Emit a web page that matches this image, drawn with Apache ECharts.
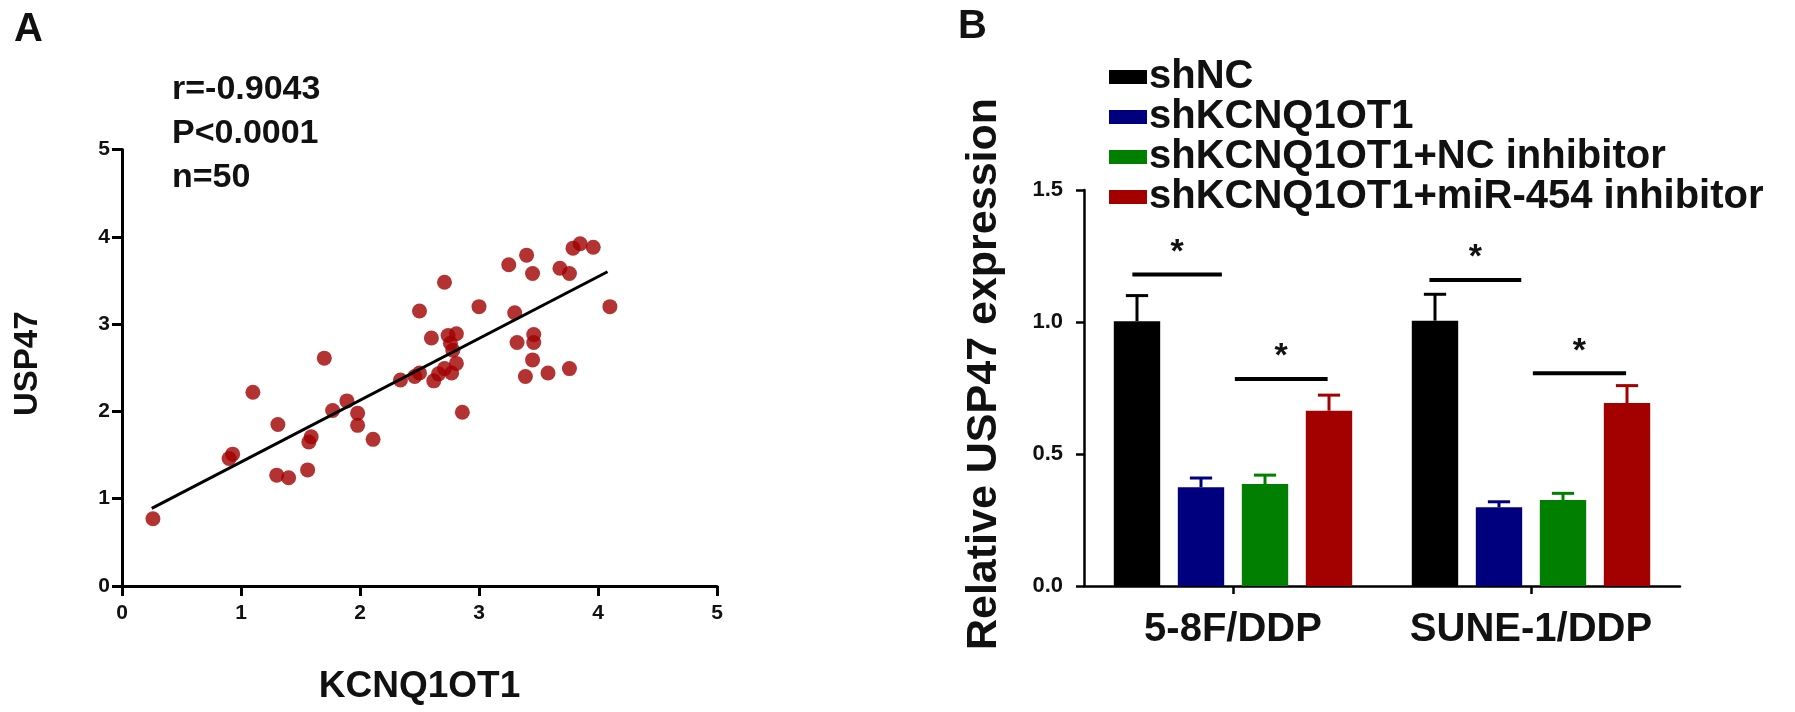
<!DOCTYPE html>
<html>
<head>
<meta charset="utf-8">
<script src="https://cdn.jsdelivr.net/npm/echarts@6/dist/echarts.min.js"></script>
<style>
html,body{margin:0;padding:0;background:#fff;}
#chart{width:1795px;height:712px;}
</style>
</head>
<body>
<div id="chart"></div>
<script>
// ---------- Panel A data (scatter) ----------
const kcnq1ot1 = [0.26,0.90,0.93,1.10,1.31,1.30,1.40,1.56,1.57,1.59,1.70,1.77,1.89,1.98,1.98,2.11,2.34,2.46,2.50,2.62,2.50,2.71,2.60,2.74,2.81,2.76,2.71,2.81,2.77,2.86,3.00,3.25,3.40,3.45,3.30,3.32,3.46,3.46,3.45,3.39,3.58,3.76,3.68,3.76,3.79,3.85,3.96,4.10,2.66,2.78];
const usp47    = [0.77,1.46,1.51,2.22,1.85,1.27,1.24,1.33,1.65,1.71,2.61,2.01,2.12,1.98,1.84,1.68,2.36,2.40,2.44,2.35,3.15,3.48,2.84,2.87,2.89,2.78,2.49,2.55,2.44,1.99,3.20,3.68,3.79,3.58,3.13,2.79,2.88,2.79,2.59,2.40,2.44,2.49,3.64,3.58,3.87,3.92,3.88,3.20,2.43,2.70];
const fitLineX = [0.25, 4.08];
const fitLineY = [0.89, 3.60];
const scatterTicks = [0,1,2,3,4,5];
const statLines = ['r=-0.9043','P<0.0001','n=50'];

// ---------- Panel B data (bars) ----------
const cellLines = ['5-8F/DDP','SUNE-1/DDP'];
const groupNames = ['shNC','shKCNQ1OT1','shKCNQ1OT1+NC inhibitor','shKCNQ1OT1+miR-454 inhibitor'];
const groupColors = ['#000000','#00007f','#007f00','#a30000'];
const shNC      = [1.003, 1.005];
const shK       = [0.374, 0.298];
const shKNC     = [0.386, 0.326];
const shKmiR    = [0.664, 0.693];
const errShNC   = [0.097, 0.100];
const errShK    = [0.035, 0.021];
const errShKNC  = [0.034, 0.025];
const errShKmiR = [0.059, 0.066];
const barTicks = [0, 0.5, 1.0, 1.5];
// significance brackets: [category, start bar, start offset (bar widths), end bar, end offset, y value]
const sigBrackets = [[0,0,-0.1,1,0.45,1.18],[0,2,-0.65,3,-0.03,0.784],[1,0,-0.12,1,0.48,1.159],[1,2,-0.65,3,-0.02,0.806]];

const FONT = '"Liberation Sans", Arial, sans-serif';
const CAT_GAP = 0.2, BAR_GAP = 0.38;

const values = [shNC, shK, shKNC, shKmiR];
const errs = [errShNC, errShK, errShKNC, errShKmiR];

function barGeom(api){
  const band = api.size([1,0])[0];
  const n = groupNames.length;
  const barW = band*(1-CAT_GAP)/(n+(n-1)*BAR_GAP);
  return {band, barW, pitch: barW*(1+BAR_GAP)};
}
function barX(api, cat, idx, frac){
  const g = barGeom(api);
  const c = api.coord([cat, 0])[0];
  return c - g.band*(1-CAT_GAP)/2 + g.barW/2 + idx*g.pitch + frac*g.barW;
}

const errData = [];
values.forEach((arr, gi)=>arr.forEach((v, ci)=>errData.push([ci, gi, v, errs[gi][ci]])));

const chart = echarts.init(document.getElementById('chart'));
const option = {
  animation:false,
  backgroundColor:'#fff',
  textStyle:{fontFamily:FONT},
  grid:[
    {left:122, top:149.5, width:595, height:436.5},
    {left:1084, top:190, width:596, height:396}
  ],
  xAxis:[
    {gridIndex:0, type:'value', min:0, max:5, interval:1,
     name:'KCNQ1OT1', nameLocation:'middle', nameGap:82,
     nameTextStyle:{fontSize:37, fontWeight:'bold', color:'#111', fontFamily:FONT},
     axisLine:{show:true, lineStyle:{color:'#000', width:3}},
     axisTick:{show:true, length:10, lineStyle:{color:'#000', width:3}},
     axisLabel:{fontSize:21, fontWeight:'bold', color:'#111', margin:17, fontFamily:FONT,
       formatter:(v)=>scatterTicks.includes(v)?String(v):''},
     splitLine:{show:false}},
    {gridIndex:1, type:'category', data:cellLines,
     axisLine:{show:true, lineStyle:{color:'#000', width:2.5}},
     axisTick:{show:true, alignWithLabel:true, length:8, lineStyle:{color:'#000', width:2.5}},
     axisLabel:{interval:0, fontSize:40, fontWeight:'bold', color:'#111', margin:24, fontFamily:FONT},
     splitLine:{show:false}}
  ],
  yAxis:[
    {gridIndex:0, type:'value', min:0, max:5, interval:1,
     name:'USP47', nameLocation:'middle', nameGap:78, nameRotate:90,
     nameTextStyle:{fontSize:33, fontWeight:'bold', color:'#111', fontFamily:FONT, padding:[0,0,0,8]},
     axisLine:{show:true, lineStyle:{color:'#000', width:3}},
     axisTick:{show:true, length:10, lineStyle:{color:'#000', width:3}},
     axisLabel:{fontSize:21, fontWeight:'bold', color:'#111', margin:12, fontFamily:FONT},
     splitLine:{show:false}},
    {gridIndex:1, type:'value', min:0, max:1.5, interval:0.5,
     name:'Relative USP47 expression', nameLocation:'middle', nameGap:78, nameRotate:90,
     nameTextStyle:{fontSize:43, fontWeight:'bold', color:'#111', fontFamily:FONT, padding:[0,0,0,28]},
     axisLine:{show:true, lineStyle:{color:'#000', width:2.5}},
     axisTick:{show:true, length:8, lineStyle:{color:'#000', width:2.5}},
     axisLabel:{fontSize:22, fontWeight:'bold', color:'#111', margin:21, fontFamily:FONT,
       formatter:(v)=>barTicks.includes(v)?v.toFixed(1):''},
     splitLine:{show:false}}
  ],
  legend:{
    orient:'vertical', left:1104, top:52, itemWidth:38, itemHeight:14, itemGap:0,
    icon:'rect', selectedMode:false,
    data:groupNames,
    textStyle:{fontSize:40, fontWeight:'bold', color:'#111', lineHeight:38, fontFamily:FONT, padding:[0,0,0,-3]}
  },
  graphic:[
    {type:'text', left:14, top:10, style:{text:'A', font:'bold 40px '+FONT, fill:'#111'}},
    {type:'text', left:958, top:7, style:{text:'B', font:'bold 40px '+FONT, fill:'#111'}},
    {type:'text', left:172, top:68, style:{text:statLines.join('\n'), font:'bold 34px '+FONT, lineHeight:44, fill:'#111'}}
  ],
  series:[
    {type:'scatter', xAxisIndex:0, yAxisIndex:0, symbol:'circle', symbolSize:15,
     itemStyle:{color:'#a00000'},
     data:kcnq1ot1.map((x,i)=>[x, usp47[i]]), z:3},
    {type:'line', xAxisIndex:0, yAxisIndex:0, symbol:'none', silent:true,
     lineStyle:{color:'#000', width:3},
     data:fitLineX.map((x,i)=>[x, fitLineY[i]]), z:4},
    ...groupNames.map((name, gi)=>({
      type:'bar', name, xAxisIndex:1, yAxisIndex:1,
      barGap:(BAR_GAP*100)+'%', barCategoryGap:(CAT_GAP*100)+'%',
      itemStyle:{color:groupColors[gi]},
      data:values[gi]
    })),
    {type:'custom', xAxisIndex:1, yAxisIndex:1, silent:true, z:5,
     data:errData,
     renderItem:(params, api)=>{
       const cat = api.value(0), gi = api.value(1), v = api.value(2), e = api.value(3);
       const g = barGeom(api);
       const x = barX(api, cat, gi, 0);
       const y0 = api.coord([cat, v])[1];
       const y1 = api.coord([cat, v+e])[1];
       const cw = g.barW*0.48;
       const col = groupColors[gi];
       return {type:'group', children:[
         {type:'line', shape:{x1:x, y1:y0, x2:x, y2:y1}, style:{stroke:col, lineWidth:3}},
         {type:'line', shape:{x1:x-cw/2, y1:y1, x2:x+cw/2, y2:y1}, style:{stroke:col, lineWidth:3}}
       ]};
     }},
    {type:'custom', xAxisIndex:1, yAxisIndex:1, silent:true, z:5,
     data:sigBrackets,
     renderItem:(params, api)=>{
       const cat = api.value(0);
       const xs = barX(api, cat, api.value(1), api.value(2));
       const xe = barX(api, cat, api.value(3), api.value(4));
       const y = api.coord([cat, api.value(5)])[1];
       return {type:'group', children:[
         {type:'line', shape:{x1:xs, y1:y, x2:xe, y2:y}, style:{stroke:'#000', lineWidth:4}},
         {type:'text', x:(xs+xe)/2, y:y-5, style:{text:'*', font:'bold 34px '+FONT, fill:'#111', align:'center', verticalAlign:'bottom'}}
       ]};
     }}
  ]
};
chart.setOption(option);
</script>
</body>
</html>
